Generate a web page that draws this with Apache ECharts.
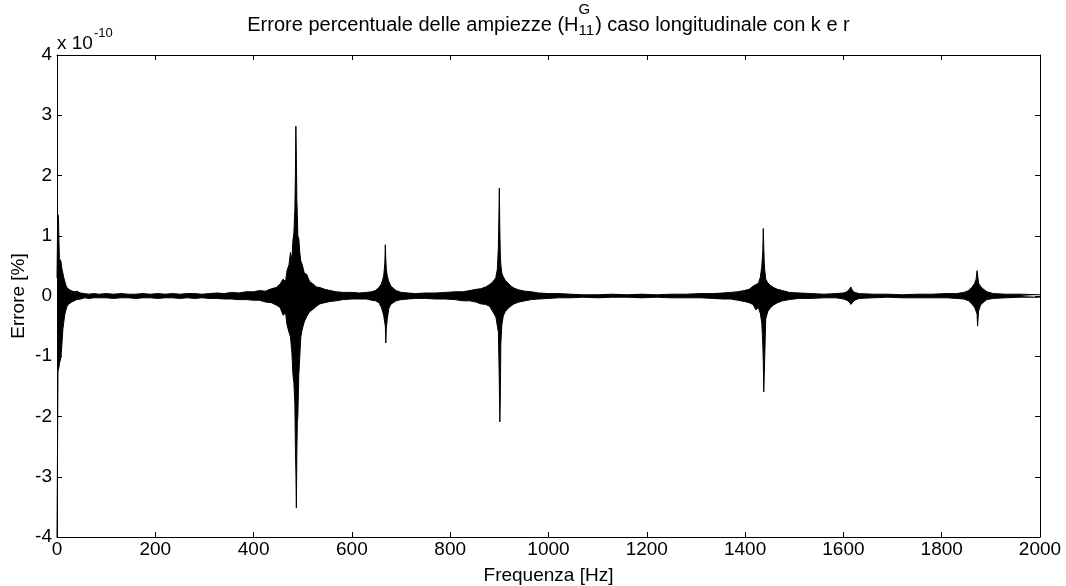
<!DOCTYPE html>
<html>
<head>
<meta charset="utf-8">
<script src="https://cdn.jsdelivr.net/npm/echarts@6/dist/echarts.min.js"></script>
<style>
  html, body { margin: 0; padding: 0; background: #fff; }
  #chart { width: 1066px; height: 586px; }
</style>
</head>
<body>
<div id="chart"></div>
<script>
// Percentage amplitude error (units of 1e-10 %), upper and lower envelope of the trace
const freqHz = [
  0, 1, 2, 3, 4, 5, 6, 8, 10, 12, 14, 16, 18, 20, 23, 26, 30, 35, 40, 48, 56,
  65, 75, 85, 100, 115, 130, 145, 160, 175, 190, 205, 220, 235, 250, 265, 280, 295, 310, 325, 340, 355, 370, 385, 400,
  412, 424, 436, 446, 454, 460, 465, 468, 472, 475, 478, 480, 482, 484, 485, 486, 487, 488, 489, 490, 492, 494, 496, 499,
  503, 508, 514, 521, 528, 535, 545, 556, 568, 582, 600, 615, 630, 640, 648,
  655, 660, 663, 665, 667, 668, 669, 670, 672, 675, 679, 684, 690, 700, 715, 730, 750, 770, 790, 810, 825, 840, 852, 862,
  872, 880, 886, 890, 893, 896, 898, 899, 900, 901, 902, 903, 905, 908, 912, 917, 923, 930, 940, 952, 965, 980,
  1000, 1020, 1045, 1070, 1100, 1130, 1160, 1190, 1220, 1250, 1280, 1310, 1335, 1355, 1370, 1385, 1398, 1408, 1416, 1422,
  1427, 1431, 1434, 1436, 1437, 1438, 1439, 1440, 1442, 1446, 1451, 1458, 1466, 1476, 1490, 1510, 1535, 1560, 1585,
  1600, 1607, 1612, 1615, 1618, 1623, 1632, 1660, 1690, 1720, 1750, 1780, 1810, 1830, 1845, 1855, 1862, 1867, 1870,
  1872, 1873, 1875, 1879, 1884, 1892, 1905, 1930, 1960, 2000
];
const errUpper = [
  0.30, 1.00, 1.35, 1.30, 0.90, 0.62, 0.60, 0.58, 0.45, 0.48, 0.30, 0.24, 0.18, 0.14, 0.16, 0.10, 0.09, 0.07, 0.08, 0.05, 0.04,
  0.03, 0.04, 0.03, 0.04, 0.03, 0.04, 0.03, 0.03, 0.04, 0.03, 0.04, 0.03, 0.04, 0.03, 0.04, 0.04, 0.03, 0.04, 0.05, 0.04, 0.06, 0.05, 0.07, 0.07,
  0.09, 0.08, 0.12, 0.14, 0.20, 0.28, 0.24, 0.42, 0.52, 0.72, 0.60, 0.92, 1.05, 1.45, 2.00, 2.82, 2.30, 1.60, 1.35, 1.00, 0.95, 0.72, 0.58, 0.52,
  0.38, 0.36, 0.24, 0.20, 0.15, 0.14, 0.11, 0.09, 0.07, 0.06, 0.06, 0.05, 0.06, 0.07, 0.09,
  0.14, 0.20, 0.28, 0.36, 0.55, 0.85, 0.60, 0.45, 0.33, 0.24, 0.17, 0.13, 0.09, 0.06, 0.05, 0.04, 0.05, 0.05, 0.06, 0.07, 0.07, 0.09, 0.11, 0.12,
  0.15, 0.19, 0.23, 0.27, 0.31, 0.45, 0.82, 1.30, 1.79, 1.10, 0.70, 0.52, 0.38, 0.32, 0.26, 0.22, 0.17, 0.13, 0.10, 0.08, 0.07, 0.05,
  0.04, 0.04, 0.03, 0.02, 0.02, 0.03, 0.02, 0.03, 0.02, 0.03, 0.03, 0.04, 0.04, 0.05, 0.06, 0.07, 0.09, 0.11, 0.16, 0.19,
  0.21, 0.31, 0.49, 0.75, 1.12, 0.80, 0.55, 0.43, 0.28, 0.22, 0.18, 0.14, 0.11, 0.09, 0.06, 0.05, 0.04, 0.03, 0.04,
  0.05, 0.07, 0.11, 0.15, 0.10, 0.06, 0.04, 0.03, 0.03, 0.02, 0.03, 0.03, 0.04, 0.04, 0.06, 0.09, 0.15, 0.21, 0.28,
  0.42, 0.35, 0.21, 0.16, 0.12, 0.07, 0.04, 0.03, 0.03, 0.02
];
const errLower = [
  -4.00, -4.00, -1.25, -1.22, -1.18, -1.12, -1.10, -1.02, -0.80, -0.55, -0.42, -0.30, -0.24, -0.18, -0.14, -0.12, -0.10, -0.08, -0.06, -0.05, -0.03,
  -0.04, -0.03, -0.03, -0.03, -0.04, -0.03, -0.03, -0.04, -0.03, -0.03, -0.04, -0.03, -0.03, -0.04, -0.03, -0.04, -0.03, -0.04, -0.04, -0.05, -0.05, -0.06, -0.06, -0.07,
  -0.07, -0.10, -0.11, -0.15, -0.19, -0.32, -0.28, -0.48, -0.60, -0.68, -0.95, -1.30, -1.45, -1.80, -2.50, -2.90, -3.52, -2.60, -2.10, -2.00, -1.30, -1.00, -0.68, -0.55,
  -0.43, -0.34, -0.26, -0.22, -0.17, -0.13, -0.11, -0.09, -0.08, -0.06, -0.05, -0.05, -0.05, -0.07, -0.08,
  -0.11, -0.19, -0.27, -0.34, -0.45, -0.50, -0.78, -0.55, -0.38, -0.21, -0.14, -0.11, -0.08, -0.06, -0.05, -0.04, -0.04, -0.05, -0.05, -0.06, -0.08, -0.08, -0.10, -0.13,
  -0.14, -0.17, -0.25, -0.24, -0.35, -0.50, -0.60, -1.00, -1.50, -2.09, -1.67, -0.80, -0.48, -0.33, -0.26, -0.21, -0.17, -0.13, -0.10, -0.08, -0.06, -0.05,
  -0.04, -0.03, -0.03, -0.02, -0.03, -0.02, -0.02, -0.03, -0.02, -0.03, -0.03, -0.03, -0.04, -0.05, -0.05, -0.07, -0.09, -0.11, -0.14, -0.23,
  -0.19, -0.29, -0.45, -0.80, -1.11, -1.59, -1.30, -1.00, -0.38, -0.26, -0.20, -0.15, -0.11, -0.08, -0.06, -0.04, -0.04, -0.03, -0.03,
  -0.05, -0.07, -0.10, -0.14, -0.11, -0.07, -0.04, -0.03, -0.02, -0.03, -0.03, -0.03, -0.03, -0.04, -0.05, -0.08, -0.14, -0.19, -0.21,
  -0.30, -0.50, -0.25, -0.15, -0.11, -0.06, -0.04, -0.03, -0.02, -0.02
];
const xTicks = { min: 0, max: 2000, step: 200 };
const yTicks = { min: -4, max: 4, step: 1 };

const FONT = '"Liberation Sans", Arial, Helvetica, sans-serif';
const FS = 19;
const GRID = { left: 57, right: 26, top: 55, bottom: 49 };
const W = 1066, H = 586;

const upperPts = freqHz.map((f, i) => [f, errUpper[i]]);
const lowerPts = freqHz.map((f, i) => [f, errLower[i]]);

// text measurement used to lay out the title with a stacked super/subscript
const ctx = document.createElement('canvas').getContext('2d');
function textW(s, size) { ctx.font = size + 'px ' + FONT; return ctx.measureText(s).width; }

const t1 = 'Errore percentuale delle ampiezze (H';
const t2 = ') caso longitudinale con k e r';
const TS = 20, SS = 15;
const w1 = textW(t1, TS), w2 = textW(t2, TS);
const wSup = Math.max(textW('G', SS), textW('11', SS)) + 1;
const total = w1 + wSup + w2;
const cx = GRID.left + (W - GRID.left - GRID.right) / 2;
const tx0 = cx - total / 2;
const titleY = 25;

function txt(text, x, y, size, align, vAlign, extra) {
  return Object.assign({
    type: 'text', x: x, y: y,
    style: { text: text, fill: '#000', fontSize: size, fontFamily: FONT,
             textAlign: align || 'left', textVerticalAlign: vAlign || 'middle' }
  }, extra || {});
}

function axis(pos, range, labels) {
  return {
    type: 'value', position: pos,
    min: range.min, max: range.max, interval: range.step,
    axisLine: { show: true, onZero: false, lineStyle: { color: '#000', width: 1 } },
    axisTick: { show: true, inside: true, length: 5, lineStyle: { color: '#000' } },
    splitLine: { show: false },
    axisLabel: labels
      ? Object.assign({ color: '#000', fontSize: FS, fontFamily: FONT, formatter: v => String(v) }, labels)
      : { show: false }
  };
}

const chart = echarts.init(document.getElementById('chart'), null, { renderer: 'canvas' });
chart.setOption({
  animation: false,
  backgroundColor: '#fff',
  grid: GRID,
  xAxis: [
    axis('bottom', xTicks, { margin: 3 }),
    axis('top', xTicks, null)
  ],
  yAxis: [
    axis('left', yTicks, { margin: 5 }),
    axis('right', yTicks, null)
  ],
  series: [
    {
      type: 'line', data: upperPts,
      showSymbol: false, symbol: 'none',
      lineStyle: { color: '#000', width: 1 },
      areaStyle: { color: '#000', opacity: 1, origin: 0 }
    },
    {
      type: 'line', data: lowerPts,
      showSymbol: false, symbol: 'none',
      lineStyle: { color: '#000', width: 1 },
      areaStyle: { color: '#000', opacity: 1, origin: 0 }
    }
  ],
  graphic: [
    txt(t1, tx0, titleY, TS, 'left', 'middle'),
    txt('G', tx0 + w1, titleY - 15, SS, 'left', 'middle'),
    txt('11', tx0 + w1, titleY + 6, SS, 'left', 'middle'),
    txt(t2, tx0 + w1 + wSup, titleY, TS, 'left', 'middle'),
    txt('x 10', 57, 44, FS, 'left', 'middle'),
    txt('-10', 57 + textW('x 10', FS) + 1, 33, 13, 'left', 'middle'),
    txt('Frequenza [Hz]', cx, 576, FS, 'center', 'middle'),
    txt('Errore [%]', 19, GRID.top + (H - GRID.top - GRID.bottom) / 2, FS, 'center', 'middle', { rotation: Math.PI / 2 })
  ]
});
</script>
</body>
</html>
